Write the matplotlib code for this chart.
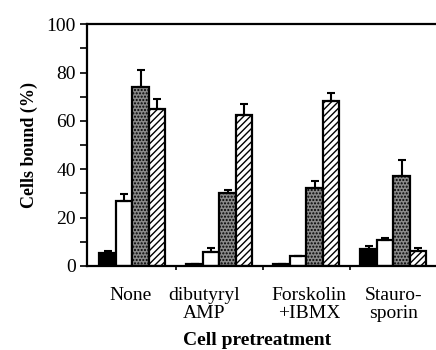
import numpy as np
import matplotlib.pyplot as plt
from matplotlib.ticker import MultipleLocator

plt.rcParams['font.family'] = ['Liberation Serif', 'DejaVu Serif']
plt.rcParams['hatch.linewidth'] = 1.0

groups = ["None", "dibutyryl\nAMP", "Forskolin\n+IBMX", "Stauro-\nsporin"]
black = [5.5, 1.0, 1.0, 6.9]
black_err = [0.5, 0.0, 0.0, 1.3]
white = [26.8, 5.9, 4.0, 10.9]
white_err = [3.0, 1.5, 0.3, 0.6]
gray = [73.9, 30.2, 32.1, 37.4]
gray_err = [7.1, 1.1, 3.2, 6.4]
hatched = [64.8, 62.5, 68.4, 6.2]
hatched_err = [4.2, 4.4, 3.2, 1.4]

fig = plt.figure(figsize=(4.36, 3.5), dpi=100)
ax = fig.add_axes([0.2, 0.24, 0.8, 0.691])

x = np.arange(len(groups))
w = 0.19
series = [
    (black, black_err, dict(facecolor='black')),
    (white, white_err, dict(facecolor='white')),
    (gray, gray_err, dict(facecolor='#8a8a8a', hatch='.....')),
    (hatched, hatched_err, dict(facecolor='white', hatch='/////')),
]
for k, (vals, errs, style) in enumerate(series):
    pos = x + (k - 1.5) * w
    ax.bar(pos, vals, w, edgecolor='black', linewidth=1.6, zorder=2, **style)
    ax.errorbar(pos, vals, yerr=[np.zeros(len(vals)), errs], fmt='none',
                ecolor='black', elinewidth=1.5, capsize=3, capthick=1.5, zorder=3)

ax.set_xlim(-0.52, 3.49)
ax.set_ylim(0, 100)
ax.spines['right'].set_visible(False)
for s in ['left', 'bottom', 'top']:
    ax.spines[s].set_linewidth(1.6)

ax.yaxis.set_major_locator(MultipleLocator(20))
ax.yaxis.set_minor_locator(MultipleLocator(10))
ax.tick_params(axis='y', which='both', direction='out', length=5, width=1.2,
               labelsize=14, pad=3)
ax.set_xticks([0.5, 1.5, 2.5])
ax.set_xticklabels([])
ax.tick_params(axis='x', direction='out', length=3, width=1.2)

label_x = [-0.02, 0.82, 2.03, 3.0]
for lx, g in zip(label_x, groups):
    ax.text(lx, -8.5, g, ha='center', va='top', fontsize=14, linespacing=1.1)

ax.set_ylabel("Cells bound (%)", fontsize=13, fontweight='bold', labelpad=6)
fig.text(0.59, 0.028, "Cell pretreatment", ha='center', va='center',
         fontsize=14, fontweight='bold')

fig.savefig("out.png", dpi=100)
